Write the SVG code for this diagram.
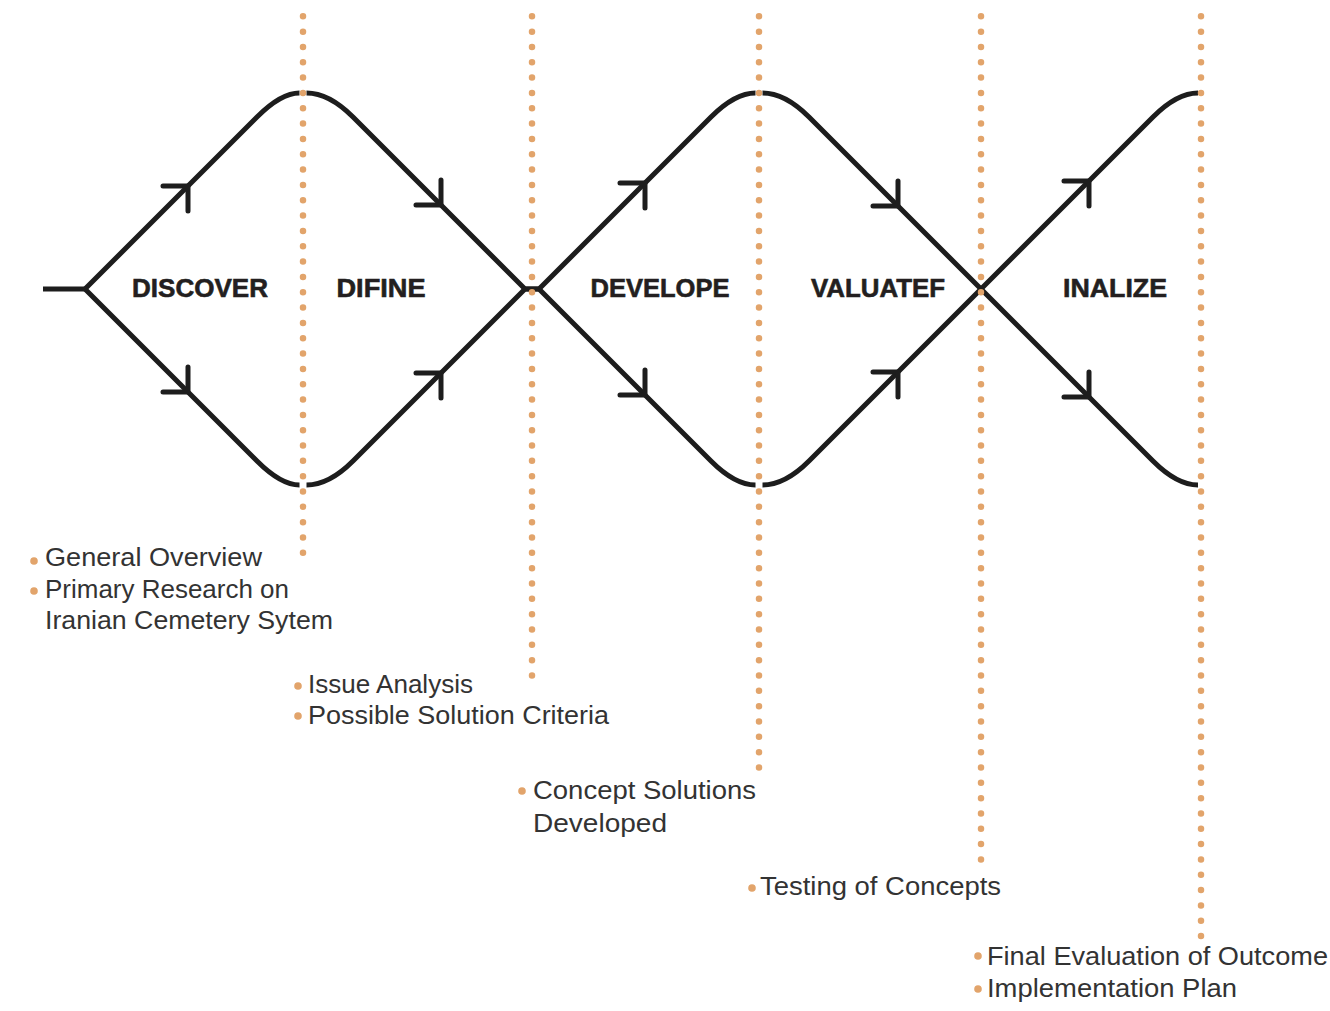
<svg xmlns="http://www.w3.org/2000/svg" width="1330" height="1011" viewBox="0 0 1330 1011">
<style>
.ln{fill:none;stroke:#1d1d1d;stroke-width:5;stroke-linejoin:miter}
.ar{fill:none;stroke:#1d1d1d;stroke-width:5;stroke-linecap:round;stroke-linejoin:miter}
.dot{fill:none;stroke:#E2A46B;stroke-width:6.5;stroke-linecap:round;stroke-dasharray:0 15.33}
.ph{font-family:"Liberation Sans",Arial,sans-serif;font-weight:700;font-size:26px;fill:#231f20;stroke:#231f20;stroke-width:0.6;text-anchor:middle}
.tx{font-family:"Liberation Sans",Arial,sans-serif;font-size:25px;fill:#333333}
.bl{fill:#E2A46B}
</style>
<rect width="1330" height="1011" fill="#ffffff"/>
<g id="connectors">
<path class="ln" d="M43,289 H85" stroke-width="7"/>
<path class="ln" d="M299.5,485 Q281,485 257,461 L85,289 L257,117 Q281,93 299.5,93"/>
<path class="ln" d="M306.5,93 Q329,93 353,117 L525,289 L539,289 L711,461 Q735,485 755.5,485"/>
<path class="ln" d="M306.5,485 Q329,485 353,461 L525,289 L539,289 L711,117 Q735,93 755.5,93"/>
<path class="ln" d="M762.5,93 Q785,93 809,117 L981,289 L1153,461 Q1177,485 1198,485"/>
<path class="ln" d="M762.5,485 Q785,485 809,461 L981,289 L1153,117 Q1177,93 1198,93"/>
<path class="ar" d="M163,186 H188 V211"/>
<path class="ar" d="M163,392 H188 V367"/>
<path class="ar" d="M416,205 H441 V180"/>
<path class="ar" d="M416,373 H441 V398"/>
<path class="ar" d="M620,183 H645 V208"/>
<path class="ar" d="M620,395 H645 V370"/>
<path class="ar" d="M873,206 H898 V181"/>
<path class="ar" d="M873,372 H898 V397"/>
<path class="ar" d="M1064,181 H1089 V206"/>
<path class="ar" d="M1064,397 H1089 V372"/>
</g>
<g id="dividers">
<path class="dot" d="M303,16.3 V554"/>
<path class="dot" d="M532,16.3 V677"/>
<path class="dot" d="M759,16.3 V773"/>
<path class="dot" d="M981,16.3 V866"/>
<path class="dot" d="M1201,16.3 V939"/>
</g>
<g id="discover"><text class="ph" x="200" y="297" textLength="136" lengthAdjust="spacingAndGlyphs">DISCOVER</text></g>
<g id="difine"><text class="ph" x="381" y="297" textLength="89" lengthAdjust="spacingAndGlyphs">DIFINE</text></g>
<g id="develope"><text class="ph" x="660" y="297" textLength="139" lengthAdjust="spacingAndGlyphs">DEVELOPE</text></g>
<g id="valuatef"><text class="ph" x="878" y="297" textLength="134" lengthAdjust="spacingAndGlyphs">VALUATEF</text></g>
<g id="inalize"><text class="ph" x="1115" y="297" textLength="104" lengthAdjust="spacingAndGlyphs">INALIZE</text></g>
<g id="notes-discover">
<circle class="bl" cx="34" cy="561" r="3.8"/>
<text class="tx" x="45" y="566" textLength="217" lengthAdjust="spacingAndGlyphs">General Overview</text>
<circle class="bl" cx="34" cy="591" r="3.8"/>
<text class="tx" x="45" y="598" textLength="244" lengthAdjust="spacingAndGlyphs">Primary Research on</text>
<text class="tx" x="45" y="629" textLength="288" lengthAdjust="spacingAndGlyphs">Iranian Cemetery Sytem</text>
</g>
<g id="notes-difine">
<circle class="bl" cx="298" cy="686" r="3.8"/>
<text class="tx" x="308" y="693" textLength="165" lengthAdjust="spacingAndGlyphs">Issue Analysis</text>
<circle class="bl" cx="298" cy="716" r="3.8"/>
<text class="tx" x="308" y="724" textLength="301" lengthAdjust="spacingAndGlyphs">Possible Solution Criteria</text>
</g>
<g id="notes-develope">
<circle class="bl" cx="522" cy="791" r="3.8"/>
<text class="tx" x="533" y="799" textLength="223" lengthAdjust="spacingAndGlyphs">Concept Solutions</text>
<text class="tx" x="533" y="832" textLength="134" lengthAdjust="spacingAndGlyphs">Developed</text>
</g>
<g id="notes-valuatef">
<circle class="bl" cx="752" cy="888" r="3.8"/>
<text class="tx" x="760" y="895" textLength="241" lengthAdjust="spacingAndGlyphs">Testing of Concepts</text>
</g>
<g id="notes-inalize">
<circle class="bl" cx="978" cy="956" r="3.8"/>
<text class="tx" x="987" y="965" textLength="341" lengthAdjust="spacingAndGlyphs">Final Evaluation of Outcome</text>
<circle class="bl" cx="978" cy="989" r="3.8"/>
<text class="tx" x="987" y="997" textLength="250" lengthAdjust="spacingAndGlyphs">Implementation Plan</text>
</g>
</svg>
